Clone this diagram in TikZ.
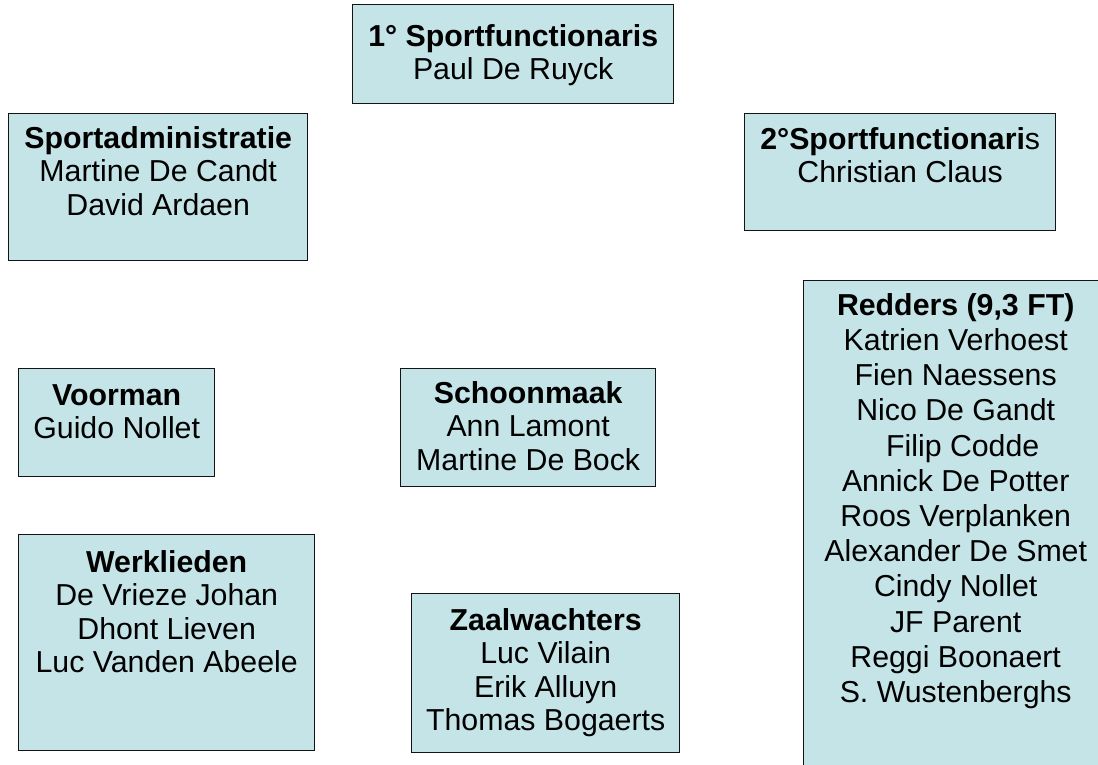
\documentclass[tikz,border=0pt]{standalone}
\usepackage{fontspec}
\setmainfont{Liberation Sans}
\definecolor{boxfill}{RGB}{197,228,232}
\definecolor{boxline}{RGB}{20,20,20}
\begin{document}
\begin{tikzpicture}[x=1pt,y=1pt,
  orgbox/.style={draw=boxline, line width=1.4pt, fill=boxfill, inner sep=0pt, anchor=north west},
  lbl/.style={font=\fontsize{30.3}{33.5}\selectfont, align=center, inner sep=0pt, anchor=north},
  lblwide/.style={lbl, font=\fontsize{30.3}{35.2}\selectfont}]
\useasboundingbox (0,0) rectangle (1098,-765);
% boxes
\node[orgbox, minimum width=321pt, minimum height=99pt]  (sf1)  at (352,-4)   {};
\node[orgbox, minimum width=311pt, minimum height=117pt] (sf2)  at (744,-113) {};
\node[orgbox, minimum width=299pt, minimum height=147pt] (adm)  at (8,-113)   {};
\node[orgbox, minimum width=196pt, minimum height=108pt] (voor) at (18,-368)  {};
\node[orgbox, minimum width=255pt, minimum height=118pt] (scho) at (400,-368) {};
\node[orgbox, minimum width=296pt, minimum height=216pt] (werk) at (18,-534)  {};
\node[orgbox, minimum width=268pt, minimum height=159pt] (zaal) at (411,-593) {};
\node[orgbox, minimum width=304pt, minimum height=500pt] (red)  at (803,-280) {};
% labels
\node[lbl] (sf1t)  at ([yshift=-18.55pt]sf1.north)  {\strut\textbf{1° Sportfunctionaris}\\Paul De Ruyck};
\node[lbl] (sf2t)  at ([yshift=-12.55pt]sf2.north)  {\strut\textbf{2°Sportfunctionari}s\\Christian Claus};
\node[lbl] (admt)  at ([yshift=-11.55pt]adm.north)  {\strut\textbf{Sportadministratie}\\Martine De Candt\\David Ardaen};
\node[lbl] (voort) at ([yshift=-13.55pt]voor.north) {\strut\textbf{Voorman}\\Guido Nollet};
\node[lbl] (schot) at ([yshift=-11.55pt]scho.north) {\strut\textbf{Schoonmaak}\\Ann Lamont\\Martine De Bock};
\node[lbl] (werkt) at ([yshift=-14.55pt]werk.north) {\strut\textbf{Werklieden}\\De Vrieze Johan\\Dhont Lieven\\Luc Vanden Abeele};
\node[lbl] (zaalt) at ([yshift=-13.55pt]zaal.north) {\strut\textbf{Zaalwachters}\\Luc Vilain\\Erik Alluyn\\Thomas Bogaerts};
\node[lblwide] (redt) at ([yshift=-10.36pt]red.north) {\strut\textbf{Redders (9,3 FT)}\\Katrien Verhoest\\Fien Naessens\\Nico De Gandt\\\hspace*{14pt}Filip Codde\\Annick De Potter\\Roos Verplanken\\Alexander De Smet\\Cindy Nollet\\JF Parent\\Reggi Boonaert\\S. Wustenberghs};
\end{tikzpicture}
\end{document}
